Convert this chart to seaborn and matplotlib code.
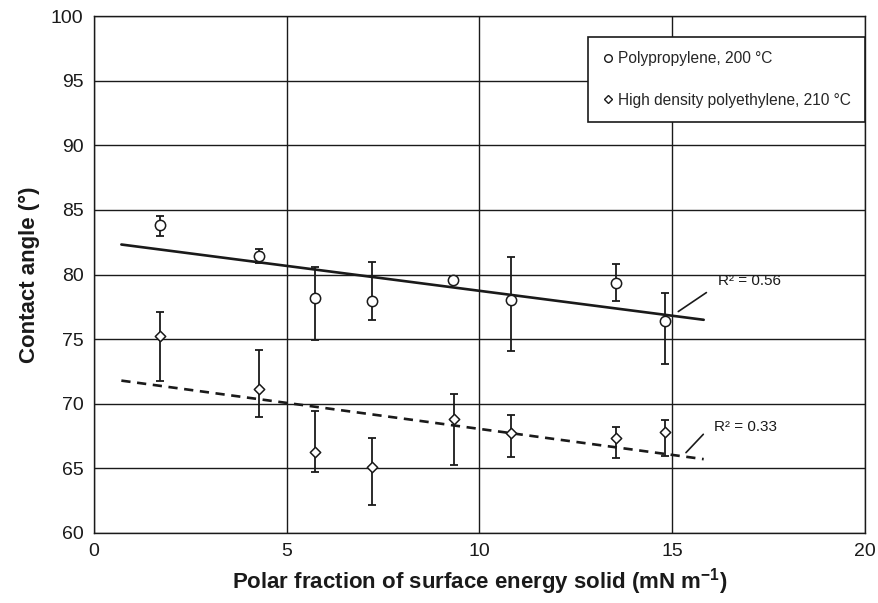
import numpy as np
import pandas as pd
import matplotlib
matplotlib.use("Agg")
import matplotlib.pyplot as plt
from matplotlib.lines import Line2D
import seaborn as sns

# ---- data ----
x_pp = [1.71, 4.29, 5.74, 7.21, 9.31, 10.81, 13.55, 14.82]
y_pp = [83.86, 81.44, 78.16, 77.98, 79.58, 78.00, 79.38, 76.41]
pp_err_lo = [0.86, 0.55, 3.20, 1.50, 0.25, 3.90, 1.42, 3.30]
pp_err_hi = [0.64, 0.55, 2.45, 3.00, 0.25, 3.40, 1.44, 2.20]

x_hd = [1.71, 4.29, 5.74, 7.22, 9.33, 10.81, 13.55, 14.82]
y_hd = [75.26, 71.15, 66.28, 65.08, 68.84, 67.73, 67.37, 67.79]
hd_err_lo = [3.49, 2.16, 1.59, 2.92, 3.54, 1.86, 1.57, 1.86]
hd_err_hi = [1.83, 3.00, 3.18, 2.24, 1.93, 1.44, 0.83, 0.97]

series_labels = ["Polypropylene, 200 °C", "High density polyethylene, 210 °C"]
x_ticks = [0, 5, 10, 15, 20]
y_ticks = [60, 65, 70, 75, 80, 85, 90, 95, 100]
x_label = "Polar fraction of surface energy solid (mN m$^{\\mathbf{-1}}$)"
y_label = "Contact angle (°)"

# ---- style ----
sns.set_theme(style="whitegrid")
plt.rcParams["font.family"] = ["Liberation Sans", "DejaVu Sans"]
plt.rcParams["mathtext.fontset"] = "custom"
plt.rcParams["mathtext.rm"] = "Liberation Sans"
plt.rcParams["mathtext.bf"] = "Liberation Sans:bold"
plt.rcParams["mathtext.it"] = "Liberation Sans:italic"

ink = "#1a1a1a"

fig = plt.figure(figsize=(8.79, 6.03), dpi=100)
ax = fig.add_axes([94 / 879, 1 - 533 / 603, (864.8 - 94) / 879, (533 - 16.2) / 603])
ax.set_facecolor("white")

def trend(x, y):
    x = np.asarray(x); y = np.asarray(y)
    m, b = np.polyfit(x, y, 1)
    r2 = np.corrcoef(x, y)[0, 1] ** 2
    xs = np.array([x.min() - 1.0, x.max() + 1.0])
    return pd.DataFrame({"x": xs, "y": m * xs + b}), r2

tr_pp, r2_pp = trend(x_pp, y_pp)
tr_hd, r2_hd = trend(x_hd, y_hd)

sns.lineplot(data=tr_pp, x="x", y="y", ax=ax, color=ink, lw=1.9, zorder=3)
sns.lineplot(data=tr_hd, x="x", y="y", ax=ax, color=ink, lw=1.9, zorder=3,
             linestyle=(0, (3.5, 2.5)))

ax.errorbar(x_pp, y_pp, yerr=[pp_err_lo, pp_err_hi], fmt="none", ecolor=ink,
            elinewidth=1.3, capsize=3, capthick=1.3, zorder=4)
ax.errorbar(x_hd, y_hd, yerr=[hd_err_lo, hd_err_hi], fmt="none", ecolor=ink,
            elinewidth=1.3, capsize=3, capthick=1.3, zorder=4)

sns.scatterplot(x=x_pp, y=y_pp, ax=ax, marker="o", s=55, facecolor="white",
                edgecolor=ink, linewidth=1.1, zorder=5)
sns.scatterplot(x=x_hd, y=y_hd, ax=ax, marker="D", s=28, facecolor="white",
                edgecolor=ink, linewidth=1.1, zorder=5)

# R² annotations
ax.text(16.2, 79.47, f"R² = {r2_pp:.2f}", fontsize=11, va="center", ha="left", color=ink)
ax.annotate("", xy=(15.16, 77.14), xytext=(15.89, 78.61),
            arrowprops=dict(arrowstyle="-", color=ink, lw=1.2, shrinkA=0, shrinkB=0))
ax.text(16.1, 68.23, f"R² = {r2_hd:.2f}", fontsize=11, va="center", ha="left", color=ink)
ax.annotate("", xy=(15.36, 66.22), xytext=(15.81, 67.64),
            arrowprops=dict(arrowstyle="-", color=ink, lw=1.2, shrinkA=0, shrinkB=0))

# axes
ax.set_xlim(0, 20)
ax.set_ylim(60, 100)
ax.set_xticks(x_ticks)
ax.set_yticks(y_ticks)
ax.grid(True, color=ink, lw=1.0)
ax.set_axisbelow(True)
for s in ax.spines.values():
    s.set_color(ink)
    s.set_linewidth(1.0)
ax.tick_params(axis="both", which="major", direction="inout", length=7, width=1.0,
               color=ink, labelsize=14, labelcolor=ink, pad=4)
ax.set_xlabel(x_label, fontsize=16, fontweight="bold", color=ink, labelpad=4)
ax.set_ylabel(y_label, fontsize=16, fontweight="bold", color=ink, labelpad=8)

# legend
handles = [
    Line2D([], [], marker="o", linestyle="none", markersize=5.5, markerfacecolor="white",
           markeredgecolor=ink, markeredgewidth=1.0),
    Line2D([], [], marker="D", linestyle="none", markersize=4.3, markerfacecolor="white",
           markeredgecolor=ink, markeredgewidth=1.0),
]
leg = ax.legend(handles, series_labels, loc="upper right", bbox_to_anchor=(1.0, 0.959),
                fontsize=11.2, frameon=True, fancybox=False, framealpha=1, edgecolor=ink,
                handlelength=0.7, handletextpad=0.3, labelspacing=1.7, borderpad=0.9,
                borderaxespad=0)
leg.get_frame().set_linewidth(1.2)

fig.savefig("out.png", dpi=100, facecolor="white")
